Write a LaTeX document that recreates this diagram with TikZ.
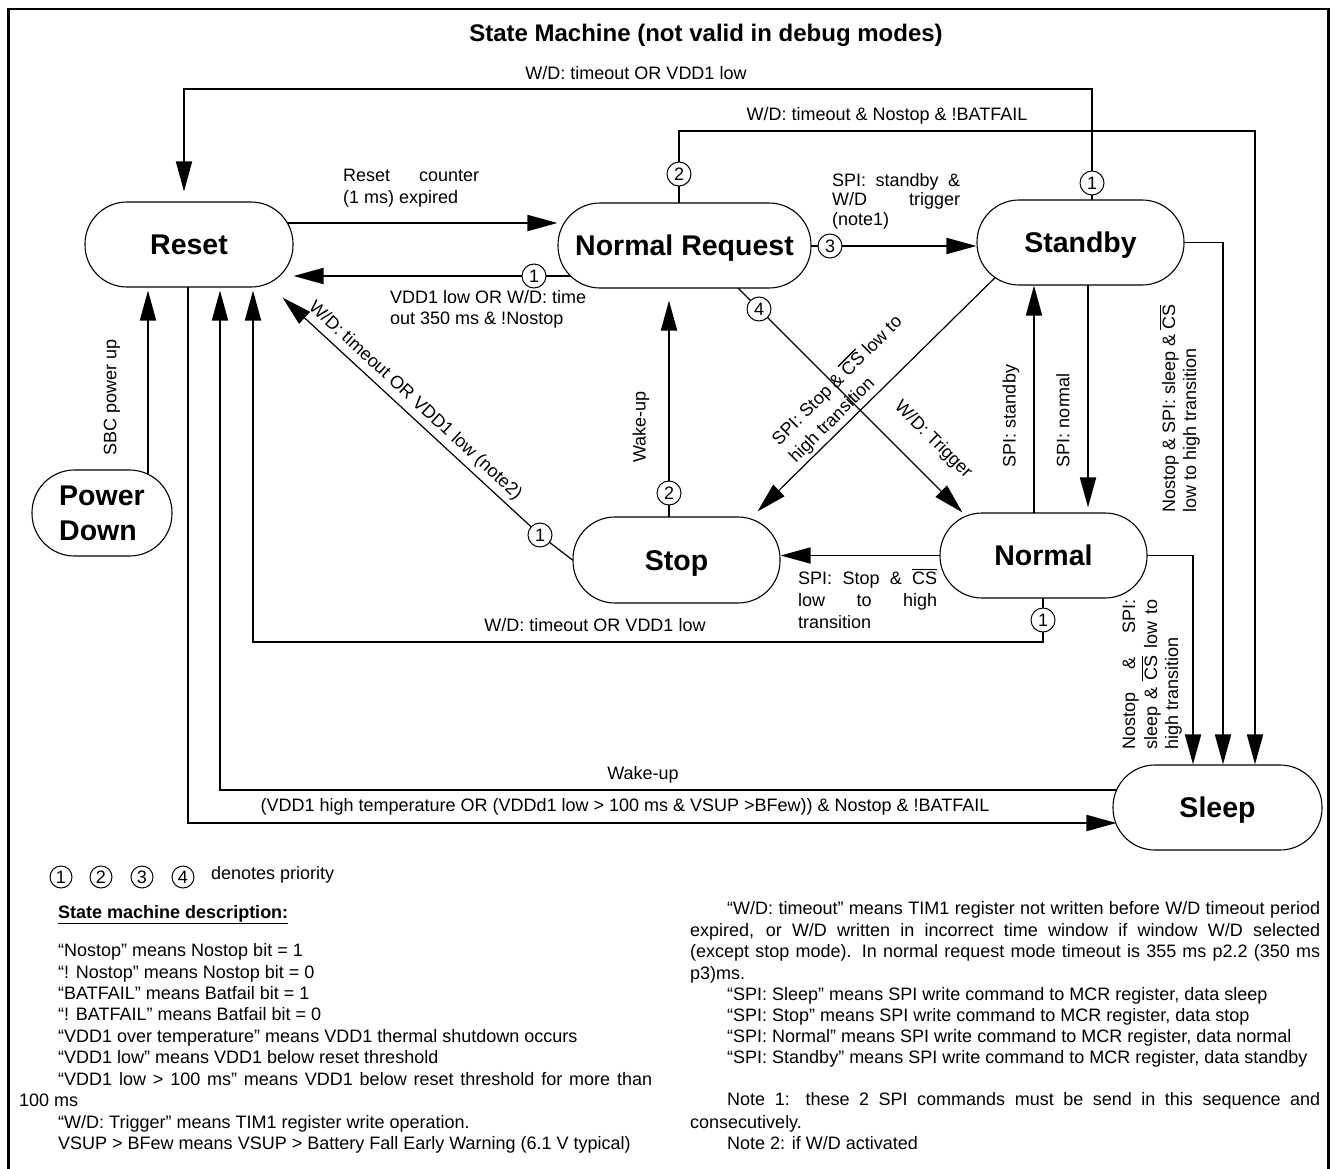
\documentclass[tikz,border=0pt]{standalone}
\usepackage{fontspec}
\setmainfont{Liberation Sans}
\usetikzlibrary{arrows.meta,backgrounds}
\newcommand{\myovl}[1]{\leavevmode\vbox{\hrule height 1.3pt\kern 1.6pt\hbox{#1}}}
\begin{document}
\begin{tikzpicture}[x=1pt,y=-1pt,
  stbox/.style={draw,line width=1.1pt,fill=white,rounded corners=42pt,inner sep=0pt,
     font=\fontsize{28.5}{34}\selectfont\bfseries,text height=20.5pt,text depth=0pt},
  pdbox/.style={draw,line width=1.1pt,fill=white,rounded corners=42.5pt,inner sep=0pt,align=left,
     font=\fontsize{28.5}{35}\selectfont\bfseries},
  prio/.style={draw,circle,line width=1pt,fill=white,inner sep=0pt,minimum size=24pt,
     font=\fontsize{18}{20}\selectfont},
  conn/.style={line width=1.8pt},
  thinconn/.style={line width=1.2pt},
  arrowend/.style={-{Triangle[length=30pt,width=16pt]}},
  lbl/.style={inner sep=0pt,font=\fontsize{18}{21.5}\selectfont},
  desc/.style={inner sep=0pt,font=\fontsize{18}{21.5}\selectfont,anchor=base west},
]
\useasboundingbox (0,0) rectangle (1335,1169);

% frame and title
\draw[line width=2.5pt] (8.5,1180) -- (8.5,9) -- (1328.5,9) -- (1328.5,1180);
\node[inner sep=0pt,font=\fontsize{24}{28}\selectfont\bfseries,anchor=base] (title) at (706,42) {State Machine (not valid in debug modes)};

% states
\node[stbox,minimum width=208pt,minimum height=85pt] (Reset) at (189,244.5) {Reset};
\node[stbox,minimum width=253pt,minimum height=85pt] (NR) at (684.5,245.5) {Normal Request};
\node[stbox,minimum width=207pt,minimum height=85pt] (Standby) at (1080.5,242.5) {Standby};
\node[stbox,minimum width=207pt,minimum height=86pt] (Stop) at (676.5,560) {Stop};
\node[stbox,minimum width=207pt,minimum height=85pt] (Normal) at (1043.5,555.5) {Normal};
\node[stbox,minimum width=209pt,minimum height=85pt] (Sleep) at (1217.5,807.5) {Sleep};
\node[pdbox,minimum width=140pt,minimum height=86pt] (PD) at (102,513) {Power\\Down};

% priority circles
\node[prio] (s1) at (1092,183) {1};
\node[prio] (r2) at (679,174) {2};
\node[prio] (r1) at (534,276) {1};
\node[prio] (c3) at (830,246) {3};
\node[prio] (c4) at (759,309) {4};
\node[prio] (t1c) at (540,535) {1};
\node[prio] (w2) at (669,493) {2};
\node[prio] (n1) at (1043,620) {1};

% bend coordinates
\coordinate (t1) at (184,89);
\coordinate (t2) at (1255,131);
\coordinate (yR) at (0,223);
\coordinate (xP) at (148,0);
\coordinate (xA) at (1193,0);
\coordinate (xB) at (1223,0);
\coordinate (xC) at (1034,0);
\coordinate (xD) at (1088,0);
\coordinate (t14) at (253,642);
\coordinate (t17) at (220,790);
\coordinate (t18) at (188,823);
\coordinate (sbs) at (1015,258);

% labels
\node[lbl,anchor=base] (lA) at (636,80) {W/D: timeout OR VDD1 low};
\node[lbl,anchor=base] (lB) at (887,121) {W/D: timeout \& Nostop \& !BATFAIL};
\node[lbl,anchor=base west] at (343,182) {\makebox[136pt][s]{Reset counter}};
\node[lbl,anchor=base west] at (343,204) {(1 ms) expired};
\node[lbl,anchor=base west] at (390,303.5) {VDD1 low OR W/D: time};
\node[lbl,anchor=base west] at (390,324.5) {out 350 ms \& !Nostop};
\node[lbl,rotate=90] at (112,397) {SBC power up};
\node[lbl,rotate=-42.7] at (415,401) {W/D: timeout OR VDD1 low (note2)};
\node[lbl,rotate=90] at (641,427) {Wake-up};
\node[lbl,anchor=base west] at (832,186) {\makebox[128pt][s]{SPI: standby \&}};
\node[lbl,anchor=base west] at (832,205.5) {\makebox[128pt][s]{W/D trigger}};
\node[lbl,anchor=base west] at (832,225) {(note1)};
\node[lbl,rotate=-45] at (933,440) {W/D: Trigger};
\node[lbl,rotate=45,anchor=base west] at (779,446.6) {SPI: Stop \& \myovl{CS} low to};
\node[lbl,rotate=45,anchor=base west] at (796,463.6) {high transition};
\node[lbl,rotate=90] at (1011,416) {SPI: standby};
\node[lbl,rotate=90] at (1063,420) {SPI: normal};
\node[lbl,rotate=90,anchor=base west] at (1175,513) {Nostop \& SPI: sleep \& \myovl{CS}};
\node[lbl,rotate=90,anchor=base west] at (1196,513) {low to high transition};
\node[lbl,anchor=base west] at (798,584.5) {\makebox[139pt][s]{SPI: Stop \& \myovl{CS}}};
\node[lbl,anchor=base west] at (798,606) {\makebox[139pt][s]{low to high}};
\node[lbl,anchor=base west] at (798,628) {transition};
\node[lbl,anchor=base] at (595,631) {W/D: timeout OR VDD1 low};
\node[lbl,rotate=90,anchor=base west] at (1135,750) {\makebox[150pt][s]{Nostop \& SPI:}};
\node[lbl,rotate=90,anchor=base west] at (1157,750) {\makebox[150pt][s]{sleep \& \myovl{CS} low to}};
\node[lbl,rotate=90,anchor=base west] at (1178,750) {high transition};
\node[lbl,anchor=base] at (643,779.5) {Wake-up};
\node[lbl,anchor=base] at (625,811) {(VDD1 high temperature OR (VDDd1 low > 100 ms \& VSUP >BFew)) \& Nostop \& !BATFAIL};

% legend
\node[prio,minimum size=22pt] (k1) at (61,877) {1};
\node[prio,minimum size=22pt] (k2) at (101,877) {2};
\node[prio,minimum size=22pt] (k3) at (142,877) {3};
\node[prio,minimum size=22pt] (k4) at (183,877) {4};
\node[desc] at (211,879) {denotes priority};
\node[desc,font=\fontsize{18}{21.5}\selectfont\bfseries] at (58,918) {\underline{State machine description:}};

\node[desc] at (58,956.5) {“Nostop” means Nostop bit = 1};
\node[desc] at (58,978.5) {“! Nostop” means Nostop bit = 0};
\node[desc] at (58,999.5) {“BATFAIL” means Batfail bit = 1};
\node[desc] at (58,1020.5) {“! BATFAIL” means Batfail bit = 0};
\node[desc] at (58,1042.5) {“VDD1 over temperature” means VDD1 thermal shutdown occurs};
\node[desc] at (58,1063.5) {“VDD1 low” means VDD1 below reset threshold};
\node[desc] at (58,1085.5) {\makebox[594pt][s]{“VDD1 low > 100 ms” means VDD1 below reset threshold for more than}};
\node[desc] at (19,1106.5) {100 ms};
\node[desc] at (58,1128.5) {“W/D: Trigger” means TIM1 register write operation.};
\node[desc] at (58,1149.5) {VSUP > BFew means VSUP > Battery Fall Early Warning (6.1 V typical)};

\node[desc] at (727,914.8) {\makebox[593pt][s]{“W/D: timeout” means TIM1 register not written before W/D timeout period}};
\node[desc] at (690,936.5) {\makebox[630pt][s]{expired, or W/D written in incorrect time window if window W/D selected}};
\node[desc] at (690,957.5) {\makebox[630pt][s]{(except stop mode). In normal request mode timeout is 355 ms p2.2 (350 ms}};
\node[desc] at (690,979.2) {p3)ms.};
\node[desc] at (727,1000.8) {“SPI: Sleep” means SPI write command to MCR register, data sleep};
\node[desc] at (727,1021.5) {“SPI: Stop” means SPI write command to MCR register, data stop};
\node[desc] at (727,1042.2) {“SPI: Normal” means SPI write command to MCR register, data normal};
\node[desc] at (727,1063.8) {“SPI: Standby” means SPI write command to MCR register, data standby};
\node[desc] at (727,1105.8) {\makebox[593pt][s]{Note 1: these 2 SPI commands must be send in this sequence and}};
\node[desc] at (690,1128.2) {consecutively.};
\node[desc] at (727,1149.2) {Note 2: if W/D activated};

% connectors
\begin{scope}[on background layer]
\fill[white] (0,0) rectangle (1335,1169);
% Standby -> Reset (top)
\draw[thinconn] (Standby.center -| s1) -- (s1.center);
\draw[conn,arrowend,shorten >=10pt] (s1.center) |- (t1) -- (t1 |- Reset.north);
% Normal Request -> Sleep (top)
\draw[thinconn] (NR.center -| r2) -- (r2.center);
\draw[conn,arrowend] (r2.center) |- (t2) -- (t2 |- Sleep.north);
% Reset -> Normal Request
\draw[conn,arrowend] (Reset.center |- yR) -- (NR.west |- yR);
% Normal Request -> Reset
\draw[conn,arrowend] (NR.center |- r1) -- (r1 -| Reset.east);
% Power Down -> Reset
\draw[conn,arrowend,shorten >=3pt] (xP |- PD.center) -- (xP |- Reset.south);
% Stop -> Reset (diagonal)
\draw[thinconn] (t1c.center) -- (Stop.west);
\draw[thinconn,arrowend] (t1c.center) -- ([xshift=-11pt,yshift=-10pt]Reset.south east);
% Stop -> Normal Request
\draw[conn,arrowend,shorten >=12pt] (Stop.center -| w2) -- (w2 |- NR.south);
% Normal Request -> Standby
\draw[conn,arrowend] (NR.center |- c3) -- (c3 -| Standby.west);
% Normal Request -> Normal
\draw[thinconn] (c4.center) -- ++(-30,-30);
\draw[thinconn,arrowend] (c4.center) -- ([xshift=23pt]Normal.north west);
% Standby -> Stop
\draw[thinconn,arrowend] (sbs) -- ([xshift=-23pt,yshift=5pt]Stop.north east);
% Normal <-> Standby
\draw[conn,arrowend] (xC |- Normal.center) -- (xC |- Standby.south);
\draw[conn,arrowend,shorten >=5pt] (xD |- Standby.center) -- (xD |- Normal.north);
% Normal -> Stop
\draw[conn,arrowend] (Normal.center) -- (Normal.center -| Stop.east);
% Normal -> Reset
\draw[thinconn] (Normal.center -| n1) -- (n1.center);
\draw[conn,arrowend,shorten >=3pt] (n1.center) |- (t14) -- (t14 |- Reset.south);
% Normal -> Sleep
\draw[conn,arrowend] (Normal.center) -| (xA |- Sleep.north);
% Standby -> Sleep
\draw[conn,arrowend] (Standby.center) -| (xB |- Sleep.north);
% Sleep -> Reset
\draw[conn,arrowend,shorten >=3pt] (Sleep.center |- t17) -- (t17) -- (t17 |- Reset.south);
% Reset -> Sleep
\draw[conn,arrowend,shorten >=-4pt] (t18 |- Reset.center) -- (t18) -- (t18 -| Sleep.west);
\end{scope}
\end{tikzpicture}
\end{document}
